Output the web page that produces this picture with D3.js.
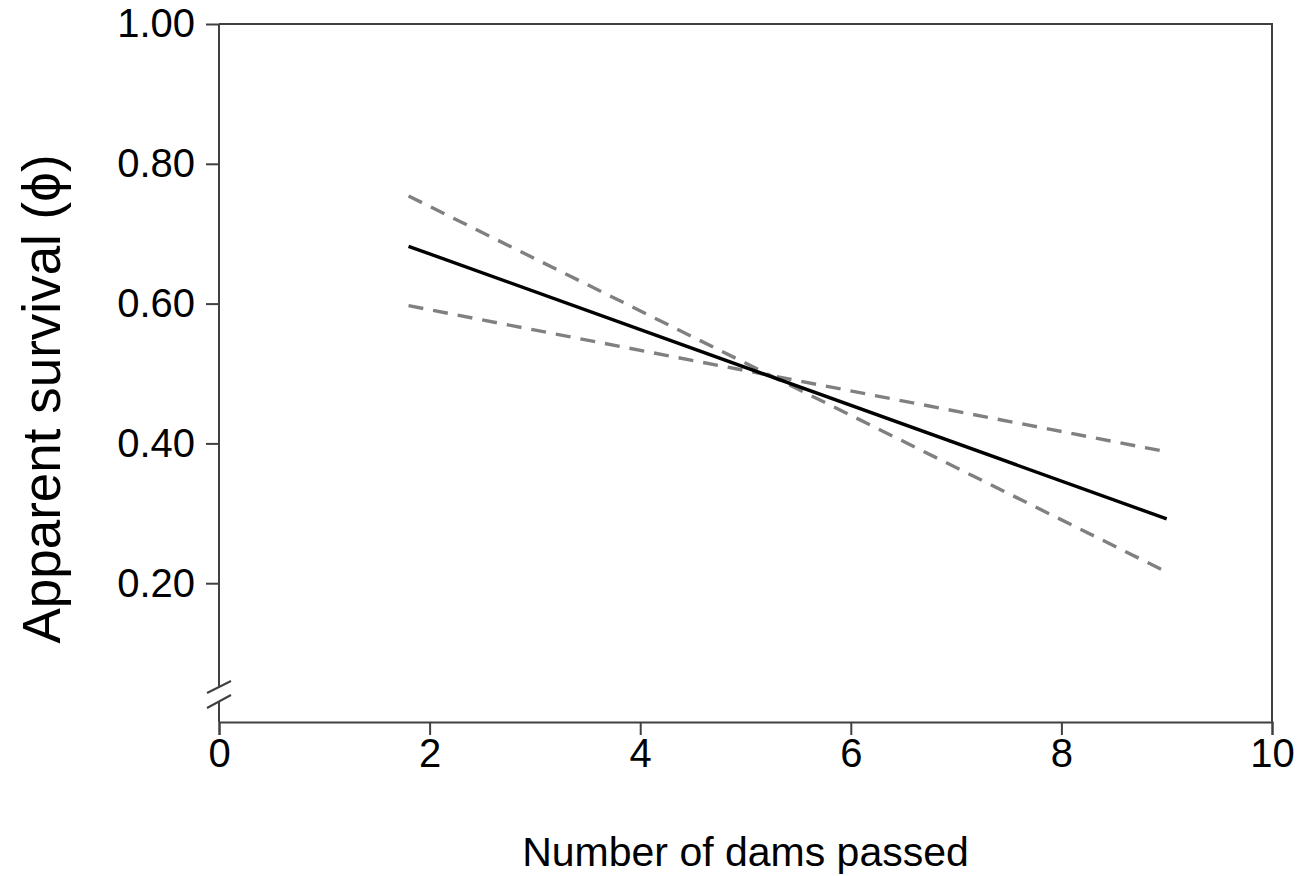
<!DOCTYPE html>
<html><head><meta charset="utf-8">
<script src="https://cdn.jsdelivr.net/npm/d3@7"></script>
<style>
body{margin:0;background:#fff;}
svg text{font-family:"Liberation Sans",Arial,sans-serif;fill:#000;}
</style></head>
<body><svg id="c" width="1302" height="876"></svg>
<script>
const dams = [1.8, 9.0];
const estimate = [0.682, 0.292];
const upperCI = [0.754, 0.216];
const lowerCI = [0.597, 0.388];
const xTicks = [0, 2, 4, 6, 8, 10];
const yTicks = [0.2, 0.4, 0.6, 0.8, 1.0];

const svg = d3.select("#c");
const L = 219, R = 1272, T = 24, B = 722;
const x = d3.scaleLinear().domain([0, 10]).range([L, R]);
const y = d3.scaleLinear().domain([0, 1]).range([723, T]);
const axisCol = "#404040";

// frame top & right
svg.append("path").attr("d", `M${L},${T}H${R}V${B}`).attr("fill","none").attr("stroke",axisCol).attr("stroke-width",2);

// x axis
const gx = svg.append("g").attr("transform", `translate(0,${B})`)
  .call(d3.axisBottom(x).tickValues(xTicks).tickSize(13).tickPadding(4).tickFormat(d3.format("d")));
gx.select(".domain").attr("stroke",axisCol).attr("stroke-width",2);
gx.selectAll(".tick line").attr("stroke",axisCol).attr("stroke-width",2);
gx.selectAll("text").attr("font-size",40).attr("fill","#000");

// y axis
const gy = svg.append("g").attr("transform", `translate(${L},0)`)
  .call(d3.axisLeft(y).tickValues(yTicks).tickSize(13).tickPadding(11).tickFormat(d3.format(".2f")));
gy.select(".domain").remove();
gy.selectAll(".tick line").attr("stroke",axisCol).attr("stroke-width",2);
gy.selectAll("text").attr("font-size",40).attr("fill","#000");

// y axis line with break
svg.append("line").attr("x1",L).attr("x2",L).attr("y1",T).attr("y2",687).attr("stroke",axisCol).attr("stroke-width",2);
svg.append("line").attr("x1",L).attr("x2",L).attr("y1",701).attr("y2",B).attr("stroke",axisCol).attr("stroke-width",2);
[[693,681],[708,695]].forEach(([a,b])=>{
  svg.append("line").attr("x1",207).attr("y1",a).attr("x2",231).attr("y2",b).attr("stroke",axisCol).attr("stroke-width",2);
});

// lines
const line = d3.line().x((d,i)=>x(dams[i])).y(d=>y(d));
svg.append("path").datum(upperCI).attr("d",line).attr("fill","none").attr("stroke","#808080").attr("stroke-width",3.4).attr("stroke-dasharray","15,10");
svg.append("path").datum(lowerCI).attr("d",line).attr("fill","none").attr("stroke","#808080").attr("stroke-width",3.4).attr("stroke-dasharray","15,10");
svg.append("path").datum(estimate).attr("d",line).attr("fill","none").attr("stroke","#000").attr("stroke-width",3.4);

// titles
svg.append("text").attr("x",(L+R)/2).attr("y",866).attr("text-anchor","middle").attr("font-size",41).text("Number of dams passed");
svg.append("text").attr("transform","translate(60,399) rotate(-90)").attr("text-anchor","middle").attr("font-size",53).text("Apparent survival (\u03d5)");
</script></body></html>
